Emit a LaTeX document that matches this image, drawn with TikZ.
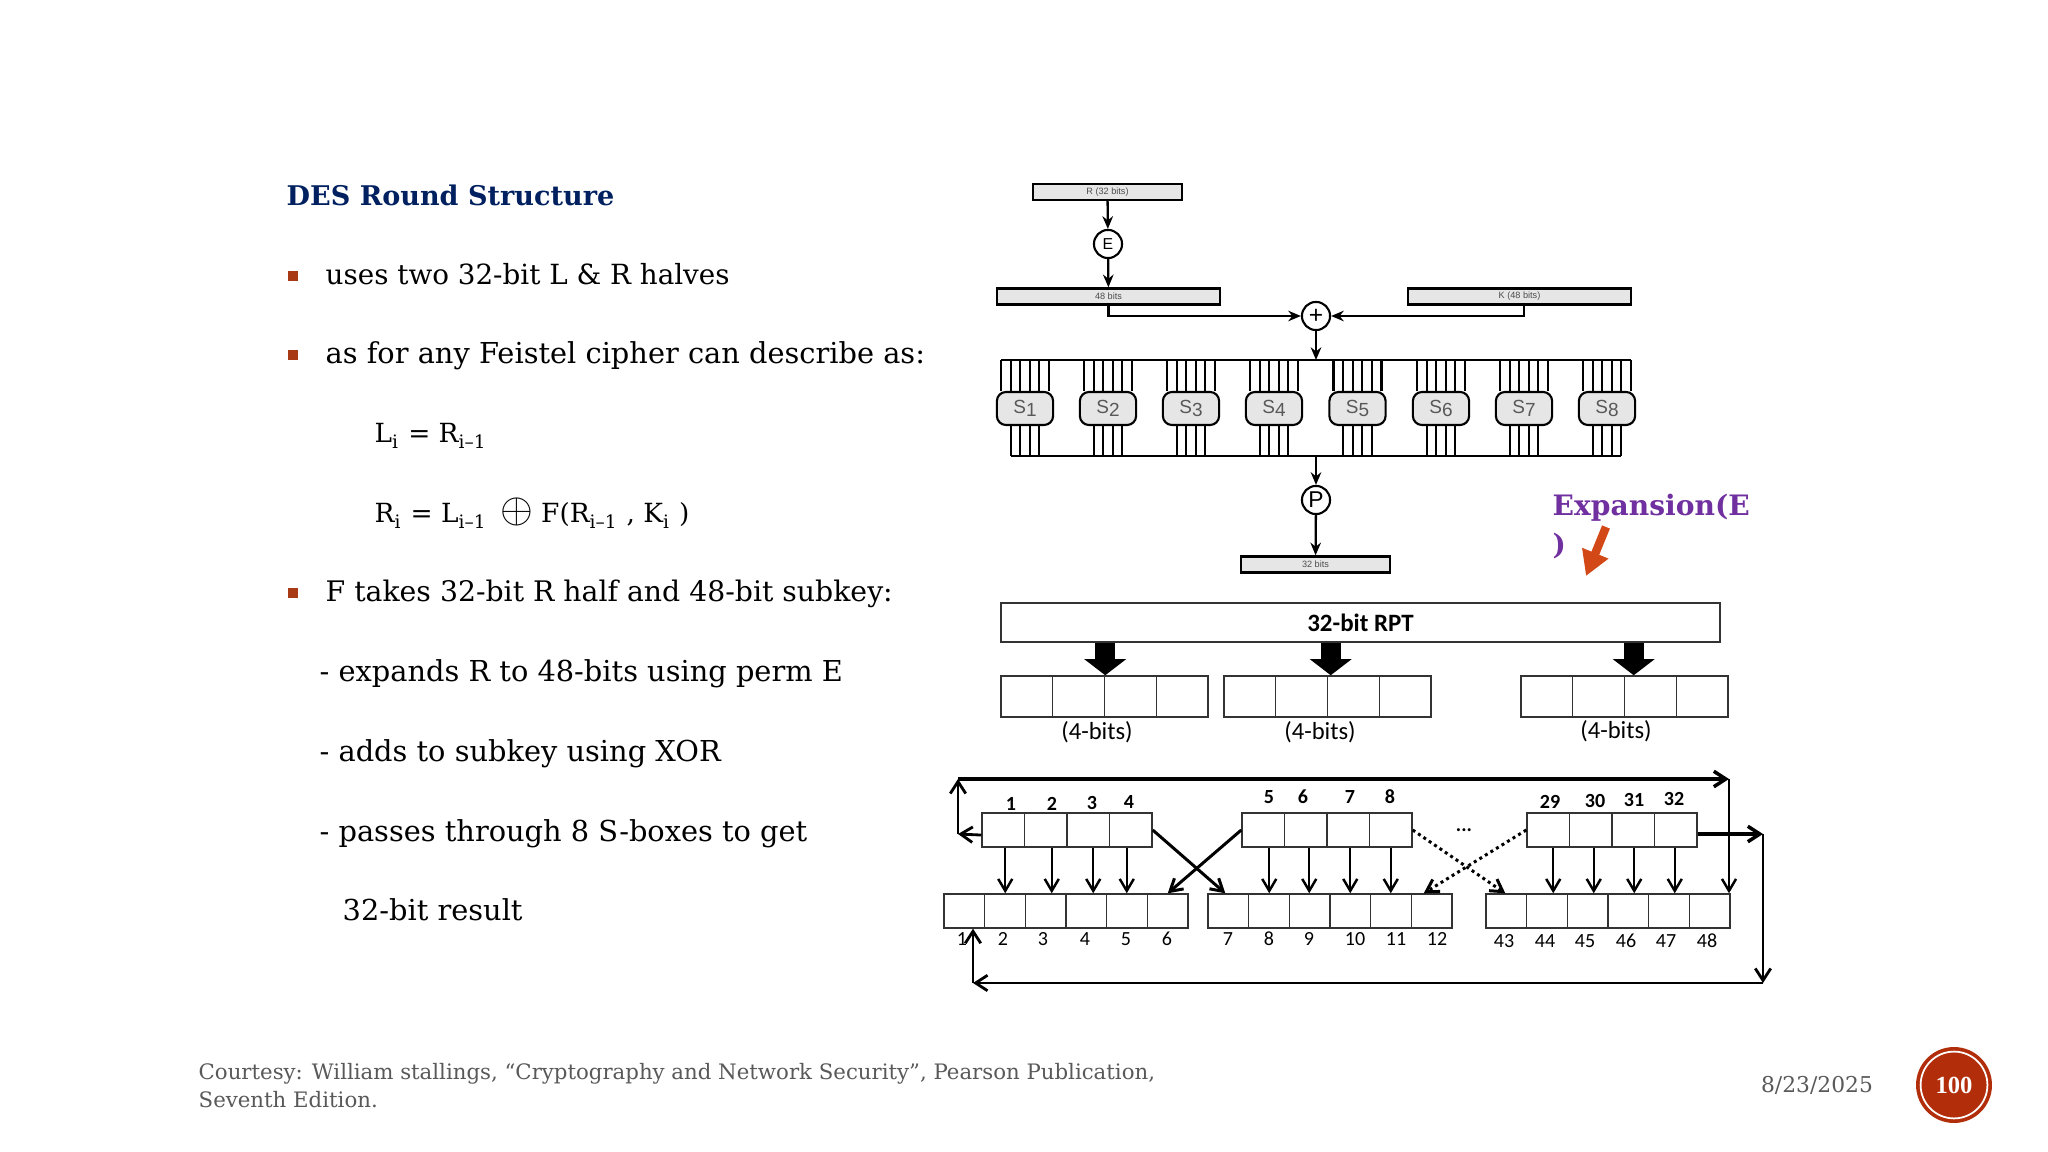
\documentclass[tikz,border=0pt]{standalone}
\usepackage{fontspec}
\usepackage{graphicx}
\setmainfont{DejaVu Serif}
\setsansfont{Carlito}
\newfontfamily\labelfont{Liberation Sans}
\newfontfamily\badgefont{Liberation Serif}
\usetikzlibrary{arrows.meta, positioning, calc}
\definecolor{desnavy}{RGB}{0,32,96}
\definecolor{desbullet}{RGB}{168,58,21}
\definecolor{despurple}{RGB}{112,48,160}
\definecolor{desorange}{RGB}{211,72,23}
\definecolor{desbadge}{RGB}{178,46,10}
\definecolor{desgray}{RGB}{230,230,230}
\definecolor{desfoot}{RGB}{89,89,89}
\newcommand{\sboxlabel}[1]{S\raisebox{-0.3ex}{#1}}
\tikzset{
  bodytext/.style={anchor=base west, inner sep=0pt, font=\fontsize{8.2}{10}\selectfont},
  eqtext/.style={anchor=base west, inner sep=0pt, font=\fontsize{7.5}{10}\selectfont},
  bulletmark/.style={fill=desbullet, minimum size=2.6pt, inner sep=0pt},
  graybar/.style={draw, line width=0.65pt, fill=desgray, inner sep=0pt, minimum height=4.6pt,
    text=black!70, font=\labelfont\fontsize{2.6}{3}\selectfont},
  roundop/.style={draw, circle, line width=0.6pt, minimum size=8pt, inner sep=0pt,
    font=\labelfont\fontsize{4.5}{5}\selectfont},
  sboxnode/.style={draw, line width=0.6pt, rounded corners=2.6pt, fill=desgray, minimum width=16pt,
    minimum height=9.4pt, inner sep=0pt, text=black!65, font=\labelfont\fontsize{5.4}{6}\selectfont},
  feed/.style={line width=0.65pt, -{Stealth[length=3.6pt,width=3pt]}},
  plainwire/.style={line width=0.6pt},
  cellnode/.style={draw, line width=0.4pt, inner sep=0pt, black!80},
  wirearrow/.style={line width=0.7pt, -{Straight Barb[length=3.4pt,width=4pt]}},
  crossarrow/.style={line width=0.85pt, -{Straight Barb[length=3.4pt,width=4pt]}},
  thickarrow/.style={line width=0.8pt, -{Straight Barb[length=3.4pt,width=4.4pt]}},
  dotarrow/.style={line width=0.85pt, densely dotted, -{Straight Barb[length=3.4pt,width=4pt]}},
  blockarrow/.style={line width=5.7pt, -{Triangle[length=4.6pt,width=11.7pt]}},
  numlabel/.style={inner sep=0pt, font=\sffamily\bfseries\fontsize{5.7}{6}\selectfont},
  bitlabel/.style={inner sep=0pt, font=\sffamily\fontsize{5.7}{6}\selectfont},
  groupnote/.style={inner sep=0pt, font=\sffamily\fontsize{7}{8}\selectfont},
}
\begin{document}
\begin{tikzpicture}[x=0.01cm, y=-0.01cm]
    \useasboundingbox[fill=white] (0,0) rectangle (2048,1152);

    % Text column
    \node[bodytext, text=desnavy, font=\fontsize{7.7}{10}\selectfont\bfseries] (title) at (286,206) {DES Round Structure};
    \node[bodytext, font=\fontsize{7.9}{10}\selectfont] (lineA) at (325,285) {uses two 32-bit L \& R halves};
    \node[bodytext] (lineB) at (325,364) {as for any Feistel cipher can describe as:};
    \node[eqtext] (eqL) at (374,443) {L\textsubscript{i} = R\textsubscript{i--1}};
    \node[eqtext] (eqR) at (374,523) {R\textsubscript{i} = L\textsubscript{i--1}\, {\large$\oplus$} F(R\textsubscript{i--1} , K\textsubscript{i} )};
    \node[bodytext, font=\fontsize{8.05}{10}\selectfont] (lineC) at (325,602) {F takes 32-bit R half and 48-bit subkey:};
    \node[bodytext] (lineD) at (319,682) {- expands R to 48-bits using perm E};
    \node[bodytext] (lineE) at (319,761) {- adds to subkey using XOR};
    \node[bodytext] (lineF) at (319,841) {- passes through 8 S-boxes to get};
    \node[bodytext] (lineG) at (342,920) {32-bit result};
    \node[bulletmark] (bulA) at (293,276) {};
    \node[bulletmark] (bulB) at (293,355) {};
    \node[bulletmark] (bulC) at (293,593) {};

    % Footer
    \node[anchor=north west, inner sep=0pt, align=left, text=desfoot, font=\fontsize{6.05}{7.8}\selectfont] (courtesy) at (198,1063)
      {Courtesy: William stallings, ``Cryptography and Network Security'', Pearson Publication,\\Seventh Edition.};
    \node[inner sep=0pt, text=desfoot, font=\fontsize{6.2}{7}\selectfont] (date) at (1817,1085) {8/23/2025};
    \node[circle, fill=desbadge, minimum size=21.6pt, inner sep=0pt] (badge) at (1954,1085) {};
    \node[circle, draw=white, line width=0.5pt, minimum size=19pt, inner sep=0pt, text=white,
      font=\badgefont\bfseries\fontsize{7}{8}\selectfont] (badgeno) at (1954,1085) {100};

    % Round function
    \node[graybar, minimum width=42.4pt] (rbox) at (1107.5,192) {R (32 bits)};
    \node[roundop] (expE) at (1108,244) {E};
    \node[graybar, minimum width=63.4pt] (bits48) at (1108.5,296.5) {48 bits};
    \node[graybar, minimum width=63.4pt] (keybox) at (1519.5,296.5) {K (48 bits)};
    \node[roundop, font=\labelfont\fontsize{7}{8}\selectfont] (xor) at (1316,316) {+};
    \node[roundop, font=\labelfont\fontsize{6.5}{7}\selectfont] (permP) at (1316,500) {P};
    \node[graybar, minimum width=42.4pt] (bits32) at (1315.5,564.5) {32 bits};
    \coordinate (topbus) at (1316,360);
    \coordinate (botbus) at (1316,456);
    \foreach \i/\x in {1/1025,2/1108,3/1191,4/1274,5/1357.5,6/1441,7/1524,8/1607}
      \node[sboxnode] (S\i) at (\x,408.5) {\sboxlabel{\i}};
    \foreach \i in {1,...,8} {
      \foreach \o in {-24,-14.4,-4.8,4.8,14.4,24}
        \draw[plainwire] ([shift={(\o,0)}]S\i.north) -- ([shift={(\o,0)}]S\i.north |- topbus);
      \foreach \o in {-14.4,-4.8,4.8,14.4}
        \draw[plainwire] ([shift={(\o,0)}]S\i.south) -- ([shift={(\o,0)}]S\i.south |- botbus);
    }
    \draw[line width=0.8pt] ([shift={(-24,0)}]S1.north |- topbus) -- ([shift={(24,0)}]S8.north |- topbus);
    \draw[line width=0.8pt] ([shift={(-14.4,0)}]S1.south |- botbus) -- ([shift={(14.4,0)}]S8.south |- botbus);
    \draw[feed] (rbox) -- (expE);
    \draw[feed] (expE) -- (bits48);
    \draw[feed] (bits48.south) |- (xor);
    \draw[feed] ([shift={(4.5,0)}]keybox.south) |- (xor);
    \draw[feed] (xor) -- (topbus);
    \draw[feed] (botbus) -- (permP);
    \draw[feed] (permP) -- (bits32);

    % Callout
    \node[anchor=north west, inner sep=0pt, align=left, text=despurple, font=\fontsize{8}{11.3}\selectfont\bfseries] (callout) at (1552,493) {Expansion(E\\)};
    \coordinate (calloutA) at (1606,527);
    \coordinate (calloutB) at (1586,576);
    \draw[desorange, line width=2.4pt, -{Triangle[length=7pt,width=7.6pt]}] (calloutA) -- (calloutB);

    % 32-bit RPT split into 4-bit groups
    \node[draw, line width=0.5pt, black!80, minimum width=204.4pt, minimum height=11.2pt, inner sep=0pt,
      text=black, font=\sffamily\bfseries\fontsize{7.1}{8}\selectfont] (rpt) at (1360.5,622.5) {32-bit RPT};
    \foreach \g/\x in {0/1001,1/1224,2/1521}
      \foreach \c in {1,...,4} {
        \pgfmathtruncatemacro{\n}{\g*4+\c}
        \node[cellnode, minimum width=14.72pt, minimum height=11.67pt] (G\n) at ({\x+(\c-0.5)*51.75},696.5) {};
      }
    \foreach \i/\dx in {2/0,6/2.5,10/8.5}
      \draw[blockarrow] ([shift={(\dx,0)}]G\i.north east |- rpt.south) -- ([shift={(\dx,0)}]G\i.north east);
    \node[groupnote] (bitsA) at (1097,732) {(4-bits)};
    \node[groupnote] (bitsB) at (1320,732) {(4-bits)};
    \node[groupnote] (bitsC) at (1616,731) {(4-bits)};

    % Expansion permutation
    \foreach \g/\x in {0/982,1/1242,2/1527}
      \foreach \c in {1,...,4} {
        \pgfmathtruncatemacro{\n}{\g*4+\c}
        \node[cellnode, minimum width=12.09pt, minimum height=9.67pt] (A\n) at ({\x+(\c-0.5)*42.5},830) {};
      }
    \foreach \g/\x in {0/944,1/1208,2/1486}
      \foreach \c in {1,...,6} {
        \pgfmathtruncatemacro{\n}{\g*6+\c}
        \node[cellnode, minimum width=11.57pt, minimum height=9.67pt] (B\n) at ({\x+(\c-0.5)*40.67},911) {};
      }
    \foreach \i/\j/\dx in {1/2/2,2/3/6,3/4/5,4/5/-4,5/8/6,6/9/3.5,7/10/2,8/11/0,9/14/5,10/15/3,11/16/1,12/17/-1}
      \draw[wirearrow] ([shift={(\dx,0)}]A\i.south) -- ([shift={(\dx,0)}]A\i.south |- B\j.north);

    % Neighbour bits
    \coordinate (outL) at (958,834);
    \coordinate (topL) at (958,779);
    \coordinate (topR) at (1729,779);
    \coordinate (outR) at (1763,834);
    \coordinate (botR) at (1763,983);
    \coordinate (botL) at (973,983);
    \draw[thickarrow] ([yshift=-0.3pt]A1.west |- outL) -- (outL);
    \draw[thickarrow] (outL) -- (topL);
    \draw[thickarrow, line width=1pt] (topL) -- (topR);
    \draw[wirearrow] (topR) -- (topR |- B18.north);
    \draw[thickarrow, line width=1pt] (A12.east |- outR) -- (outR);
    \draw[thickarrow] (outR) -- (botR);
    \draw[thickarrow] (botR) -- (botL);
    \draw[thickarrow] (botL) -- (botL |- B1.south);
    \draw[crossarrow] (A4.east) -- ([shift={(18,0)}]B7.north west);
    \draw[crossarrow] (A5.west) -- ([shift={(-21,0)}]B6.north east);
    \draw[dotarrow] (A8.east) -- ([shift={(20,0)}]B13.north west);
    \draw[dotarrow] (A9.west) -- ([shift={(-29,0)}]B12.north east);
    \node[numlabel] (dots) at (1464,830) {...};

    % Bit numbers
    \foreach \x/\y/\t in {1011/804/1,1052/804/2,1092/803/3,1129/802/4,1269/797/5,1303/797/6,1350/797/7,1390/797/8,
      1550/802/29,1595/801/30,1634/800/31,1674/799/32}
      \node[numlabel] (top\t) at (\x,\y) {\t};
    \foreach \x/\t in {962/1,1003/2,1043/3,1085/4,1126/5,1167/6,1228/7,1269/8,1309/9,1355/10,1396/11,1437/12}
      \node[bitlabel] (bot\t) at (\x,939) {\t};
    \foreach \x/\t in {1504/43,1545/44,1585/45,1626/46,1666/47,1707/48}
      \node[bitlabel] (bot\t) at (\x,941) {\t};
  \end{tikzpicture}
\end{document}
